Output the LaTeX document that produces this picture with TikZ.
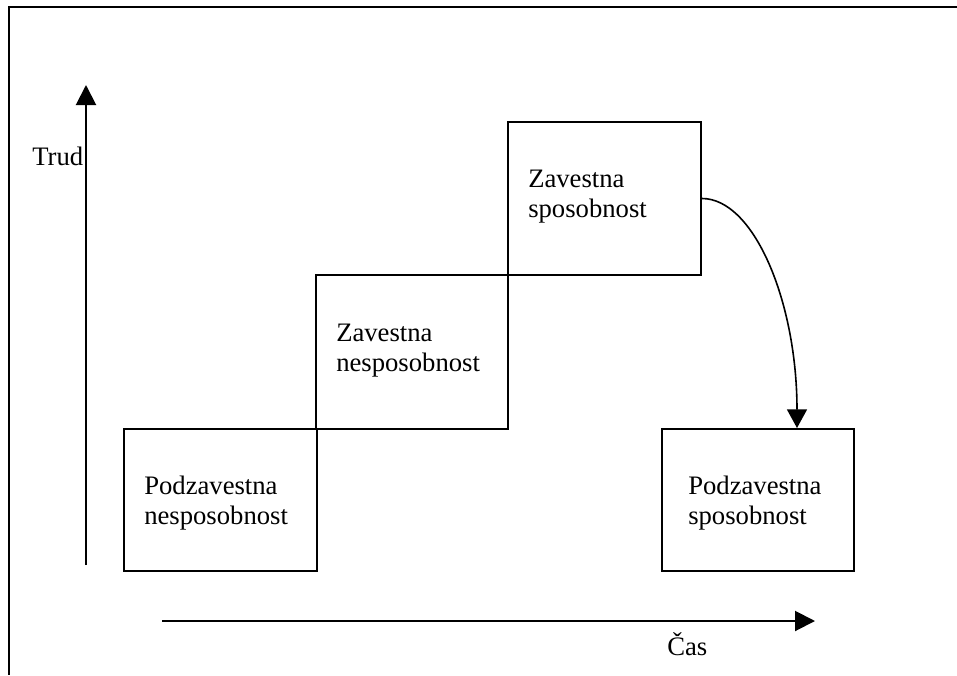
\documentclass[tikz,border=0pt]{standalone}
\usepackage{fontspec}
\setmainfont{Liberation Serif}
\usetikzlibrary{arrows.meta}

\tikzset{
  stage/.style={draw=black, line width=1.5pt, rectangle, inner sep=0pt},
  stagetext/.style={anchor=base west, align=left, inner sep=0pt,
    font=\fontsize{20pt}{22.5pt}\selectfont},
  axislabel/.style={anchor=base west, inner sep=0pt,
    font=\fontsize{20pt}{22.5pt}\selectfont},
  axis/.style={line width=1.5pt, -{Triangle[length=15pt,width=15pt]}},
  flow/.style={line width=1.2pt, -{Triangle[length=14pt,width=15pt]}},
  frame/.style={line width=1.7pt}
}

\begin{document}
\begin{tikzpicture}[x=0.75pt, y=-0.75pt]
  \useasboundingbox (0,0) rectangle (957,675);

  % open frame: top and left edges only
  \draw[frame] (957,7) -- (9,7) -- (9,675);

  % the four stages as a staircase
  \node[stage, minimum width=144.75pt, minimum height=106.5pt] (b1) at (220.5,500) {};
  \node[stage, minimum width=144pt,    minimum height=115.5pt] (b2) at (412,352) {};
  \node[stage, minimum width=144.75pt, minimum height=114.75pt] (b3) at (604.5,198.5) {};
  \node[stage, minimum width=144pt,    minimum height=106.5pt] (b4) at (758,500) {};

  % two-line labels, anchored at the baseline of their second line
  \node[stagetext] (t1) at ([shift={(21,96)}]b1.north west) {Podzavestna\\nesposobnost};
  \node[stagetext] (t2) at ([shift={(21,97)}]b2.north west) {Zavestna\\nesposobnost};
  \node[stagetext] (t3) at ([shift={(21,96)}]b3.north west) {Zavestna\\sposobnost};
  \node[stagetext] (t4) at ([shift={(27,96)}]b4.north west) {Podzavestna\\sposobnost};

  % axes
  \coordinate (ytail) at (86,565);
  \coordinate (yhead) at (86,85);
  \coordinate (xtail) at (162,621);
  \coordinate (xhead) at (815,621);
  \draw[axis] (ytail) -- (yhead);
  \draw[axis] (xtail) -- (xhead);
  \node[axislabel] (trud) at (32,165) {Trud};
  \node[axislabel] (cas) at (667,655) {Čas};

  % transition from conscious competence to unconscious competence
  \coordinate (b4in) at ([shift={(39,0)}]b4.north);
  \draw[flow] (b3.east) .. controls (754,198.5) and (797,302) .. (b4in);
\end{tikzpicture}
\end{document}
